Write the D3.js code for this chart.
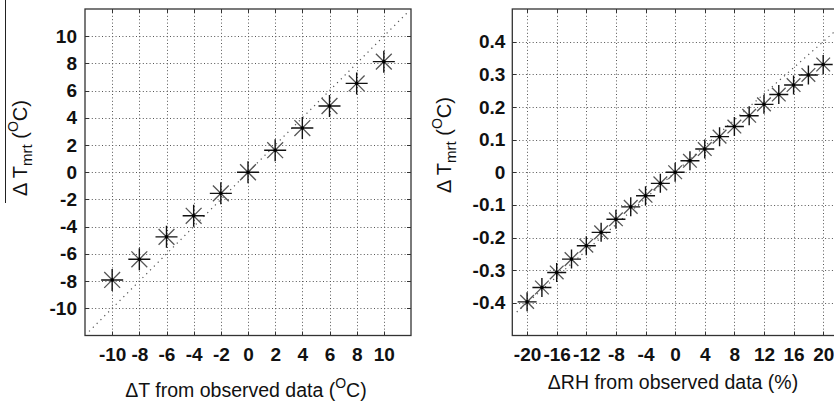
<!DOCTYPE html>
<html><head><meta charset="utf-8">
<script src="https://cdn.jsdelivr.net/npm/d3@7"></script>
<style>body{margin:0;background:#fff}svg{display:block}</style>
</head><body>
<svg id="chart" width="834" height="402"></svg>
<script>
// ---- data ----
const leftX = [-10, -8, -6, -4, -2, 0, 2, 4, 6, 8, 10];
const leftY = [-7.92, -6.4, -4.75, -3.2, -1.55, 0, 1.62, 3.25, 4.87, 6.53, 8.13];
const leftXTicks = [-10, -8, -6, -4, -2, 0, 2, 4, 6, 8, 10];
const leftYTicks = [-10, -8, -6, -4, -2, 0, 2, 4, 6, 8, 10];
const leftDomain = [-12, 12];
const leftRef = [[-11.7, -11.7], [11.7, 11.7]];

const rightX = [-20, -18, -16, -14, -12, -10, -8, -6, -4, -2, 0, 2, 4, 6, 8, 10, 12, 14, 16, 18, 20];
const rightY = [-0.397, -0.353, -0.307, -0.266, -0.225, -0.184, -0.144, -0.106, -0.072, -0.034, 0, 0.035, 0.071, 0.109, 0.14, 0.173, 0.208, 0.238, 0.267, 0.298, 0.330];
const rightXTicks = [-20, -16, -12, -8, -4, 0, 4, 8, 12, 16, 20];
const rightYTicks = [-0.4, -0.3, -0.2, -0.1, 0, 0.1, 0.2, 0.3, 0.4];
const rightXDomain = [-22, 22];
const rightYDomain = [-0.5, 0.5];
const rightRef = [[-21.4, -0.428], [22, 0.44]];

const leftXLabel = ["\u0394T from observed data (", "O", "C)"];
const rightXLabel = "\u0394RH from observed data (%)";
const yLabelParts = ["\u0394 T", "mrt", " (", "O", "C)"];

// ---- drawing ----
const svg = d3.select("#chart");
const FONT = "'Liberation Sans', Arial, sans-serif";

function panel(cfg) {
  const x = d3.scaleLinear().domain(cfg.xDomain).range([cfg.left, cfg.right]);
  const y = d3.scaleLinear().domain(cfg.yDomain).range([cfg.bottom, cfg.top]);
  const g = svg.append("g");

  // grid
  g.append("g").selectAll("line").data(cfg.xTicks).join("line")
    .attr("x1", d => Math.round(x(d)) + 0.5).attr("x2", d => Math.round(x(d)) + 0.5)
    .attr("y1", cfg.top).attr("y2", cfg.bottom)
    .attr("stroke", "#555").attr("stroke-width", 1).attr("stroke-dasharray", "1,2.4");
  g.append("g").selectAll("line").data(cfg.yTicks).join("line")
    .attr("y1", d => Math.round(y(d)) + 0.5).attr("y2", d => Math.round(y(d)) + 0.5)
    .attr("x1", cfg.left).attr("x2", cfg.right)
    .attr("stroke", "#555").attr("stroke-width", 1).attr("stroke-dasharray", "1,2.4");

  // reference 1:1 line
  g.append("line")
    .attr("x1", x(cfg.ref[0][0])).attr("y1", y(cfg.ref[0][1]))
    .attr("x2", x(cfg.ref[1][0])).attr("y2", y(cfg.ref[1][1]))
    .attr("stroke", "#555").attr("stroke-width", 1.2).attr("stroke-dasharray", "1.2,4.2");

  // axes (tick labels)
  const ax = g.append("g").attr("transform", `translate(0,${cfg.bottom})`)
    .call(d3.axisBottom(x).tickValues(cfg.xTicks).tickSize(0).tickPadding(12)
      .tickFormat(d => String(d)));
  const ay = g.append("g").attr("transform", `translate(${cfg.left},0)`)
    .call(d3.axisLeft(y).tickValues(cfg.yTicks).tickSize(0).tickPadding(cfg.yPad)
      .tickFormat(cfg.yFmt));
  [ax, ay].forEach(a => {
    a.select(".domain").remove();
    a.selectAll("text").attr("font-family", FONT).attr("font-size", 19)
      .attr("font-weight", "bold").attr("fill", "#111");
  });

  // inner tick marks (all four sides)
  const tk = 4;
  const tg = g.append("g").attr("stroke", "#333").attr("stroke-width", 1);
  cfg.xTicks.forEach(d => {
    const px = Math.round(x(d)) + 0.5;
    tg.append("line").attr("x1", px).attr("x2", px).attr("y1", cfg.bottom).attr("y2", cfg.bottom - tk);
    tg.append("line").attr("x1", px).attr("x2", px).attr("y1", cfg.top).attr("y2", cfg.top + tk);
  });
  cfg.yTicks.forEach(d => {
    const py = Math.round(y(d)) + 0.5;
    tg.append("line").attr("y1", py).attr("y2", py).attr("x1", cfg.left).attr("x2", cfg.left + tk);
    tg.append("line").attr("y1", py).attr("y2", py).attr("x1", cfg.right).attr("x2", cfg.right - tk);
  });

  // frame
  g.append("rect").attr("x", cfg.left).attr("y", cfg.top)
    .attr("width", cfg.right - cfg.left).attr("height", cfg.bottom - cfg.top)
    .attr("fill", "none").attr("stroke", "#333").attr("stroke-width", 1.3);

  // asterisk markers
  const r = cfg.mr, dd = r * 0.72;
  const pts = cfg.xs.map((v, i) => [v, cfg.ys[i]]);
  const mg = g.append("g");
  const star = mg.selectAll("g").data(pts).join("g")
    .attr("transform", d => `translate(${x(d[0])},${y(d[1])})`);
  star.append("path").attr("d", `M${-dd},${-dd}L${dd},${dd}M${-dd},${dd}L${dd},${-dd}`)
    .attr("stroke", "#555").attr("stroke-width", 1.3).attr("fill", "none");
  star.append("path").attr("d", `M${-r},0L${r},0M0,${-r}L0,${r}`)
    .attr("stroke", "#111").attr("stroke-width", 1.4).attr("fill", "none");
  star.append("circle").attr("r", 1.8).attr("fill", "#000");

  // y label
  const yl = g.append("text")
    .attr("transform", `translate(${cfg.ylx},${cfg.yly}) rotate(-90)`)
    .attr("text-anchor", "middle").attr("font-family", FONT).attr("font-size", 20).attr("fill", "#111");
  yl.append("tspan").text(yLabelParts[0]);
  yl.append("tspan").attr("font-size", 15).attr("dy", 5).text(yLabelParts[1]);
  yl.append("tspan").attr("dy", -5).text(yLabelParts[2]);
  yl.append("tspan").attr("font-size", 14).attr("dy", -9).text(yLabelParts[3]);
  yl.append("tspan").attr("dy", 9).text(yLabelParts[4]);

  // x label
  const xl = g.append("text").attr("x", cfg.xlx).attr("y", cfg.xly)
    .attr("text-anchor", "middle").attr("font-family", FONT).attr("font-size", 19.5).attr("fill", "#111");
  if (Array.isArray(cfg.xlabel)) {
    xl.append("tspan").text(cfg.xlabel[0]);
    xl.append("tspan").attr("font-size", 14).attr("dy", -9).text(cfg.xlabel[1]);
    xl.append("tspan").attr("dy", 9).text(cfg.xlabel[2]);
  } else {
    xl.text(cfg.xlabel);
  }
}

panel({
  xs: leftX, ys: leftY, xTicks: leftXTicks, yTicks: leftYTicks,
  xDomain: leftDomain, yDomain: leftDomain, ref: leftRef,
  left: 85, right: 411, top: 9, bottom: 335.5, yPad: 8, yFmt: d => String(d),
  mr: 11, ylx: 27, yly: 148, xlx: 246, xly: 397, xlabel: leftXLabel
});
panel({
  xs: rightX, ys: rightY, xTicks: rightXTicks, yTicks: rightYTicks,
  xDomain: rightXDomain, yDomain: rightYDomain, ref: rightRef,
  left: 512.3, right: 838, top: 9, bottom: 335.5, yPad: 7,
  yFmt: d => d === 0 ? "0" : d.toFixed(1),
  mr: 9.5, ylx: 451, yly: 145, xlx: 673, xly: 389, xlabel: rightXLabel
});

// stray vertical rule at far left (present in the source figure)
svg.append("line").attr("x1", 5.5).attr("x2", 5.5).attr("y1", 0).attr("y2", 203)
  .attr("stroke", "#222").attr("stroke-width", 1);
</script>
</body></html>
